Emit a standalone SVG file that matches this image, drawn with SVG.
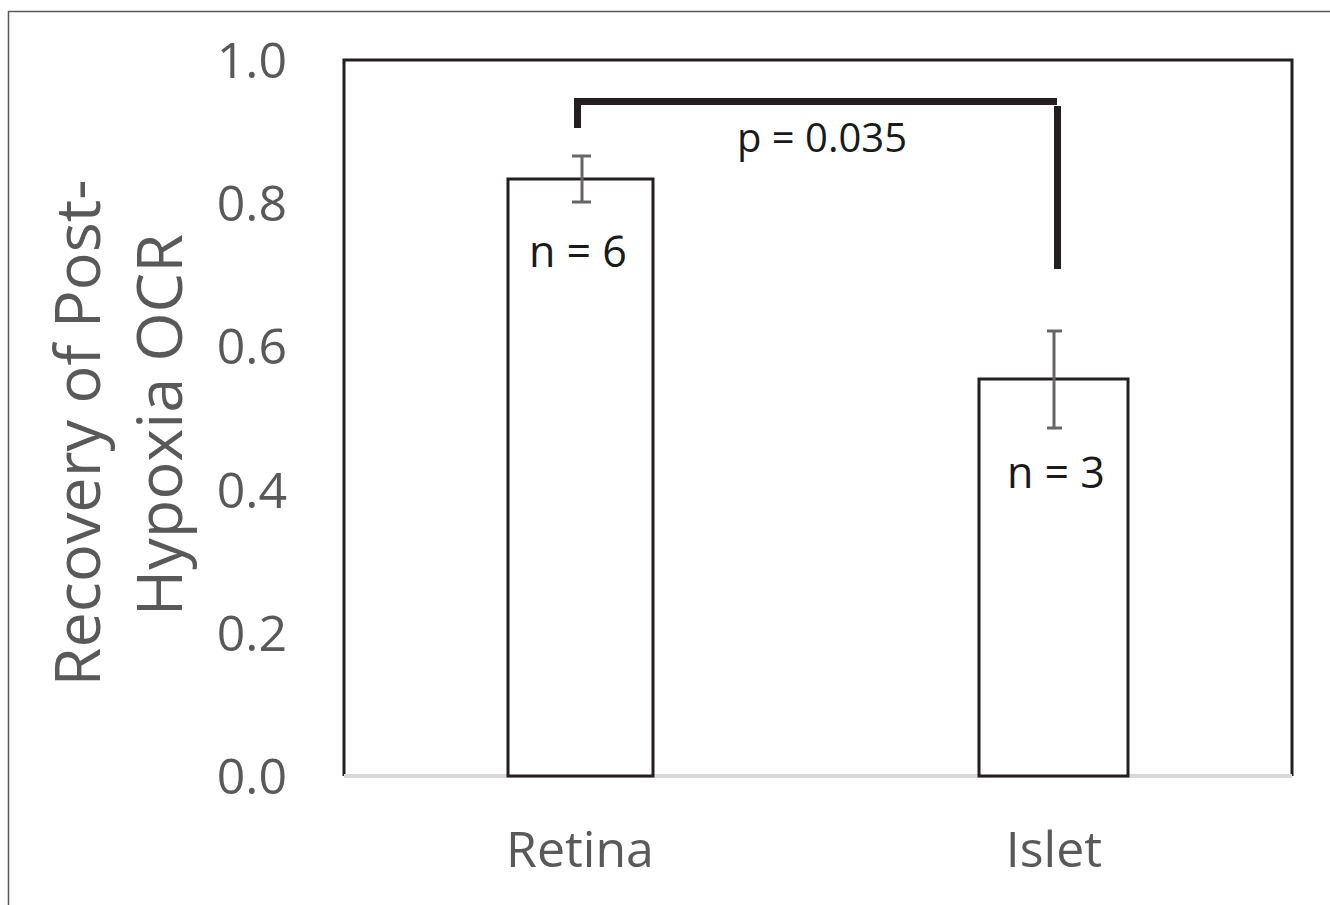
<svg xmlns="http://www.w3.org/2000/svg" width="1330" height="905" viewBox="0 0 1330 905">
<style>
.tick{font-family:"Open Sans","Liberation Sans",sans-serif;font-size:50px;fill:#595959;text-anchor:end}
.cat{font-family:"Open Sans","Liberation Sans",sans-serif;font-size:50px;fill:#595959;text-anchor:middle}
.title{font-family:"Open Sans","Liberation Sans",sans-serif;font-size:63px;fill:#595959;text-anchor:middle}
.lbl{font-family:"Open Sans","Liberation Sans",sans-serif;font-size:43px;fill:#1a1a1a;text-anchor:middle}
.bar{fill:#ffffff;stroke:#231f20;stroke-width:3}
.err{stroke:#666666;stroke-width:3;fill:none}
.brk{stroke:#231f20;stroke-width:7;fill:none}
</style>
<rect x="0" y="0" width="1330" height="905" fill="#ffffff"/>
<rect x="8.5" y="11.5" width="1400" height="1000" fill="none" stroke="#595959" stroke-width="1.5"/>
<g id="frame">
<polyline points="344,776 344,60 1292,60 1292,776" fill="none" stroke="#231f20" stroke-width="3"/>
<line x1="344" y1="776" x2="1292" y2="776" stroke="#d9d9d9" stroke-width="4"/>
</g>
<g id="yaxis">
<text class="tick" x="287" y="78">1.0</text>
<text class="tick" x="287" y="221">0.8</text>
<text class="tick" x="287" y="364">0.6</text>
<text class="tick" x="287" y="508">0.4</text>
<text class="tick" x="287" y="651">0.2</text>
<text class="tick" x="287" y="794">0.0</text>
</g>
<g id="ytitle">
<text class="title" transform="translate(100,433) rotate(-90)">Recovery of Post-</text>
<text class="title" transform="translate(182,425) rotate(-90)">Hypoxia OCR</text>
</g>
<g id="retina">
<rect class="bar" x="508" y="179" width="145" height="597"/>
<path class="err" d="M582,156 V202 M572,156 H591 M572,202 H591"/>
<text class="lbl" x="578" y="267">n = 6</text>
<text class="cat" x="580" y="867">Retina</text>
</g>
<g id="islet">
<rect class="bar" x="979" y="379" width="149" height="397"/>
<path class="err" d="M1054,331 V428 M1047,331 H1062 M1047,428 H1062"/>
<text class="lbl" x="1056" y="488">n = 3</text>
<text class="cat" x="1054" y="867">Islet</text>
</g>
<g id="connectors">
<path class="brk" d="M577.5,128 V101.5 H1057"/>
<line class="brk" x1="1057.5" y1="106" x2="1057.5" y2="269"/>
<text class="lbl" x="822" y="152" style="font-size:40px">p = 0.035</text>
</g>
</svg>
